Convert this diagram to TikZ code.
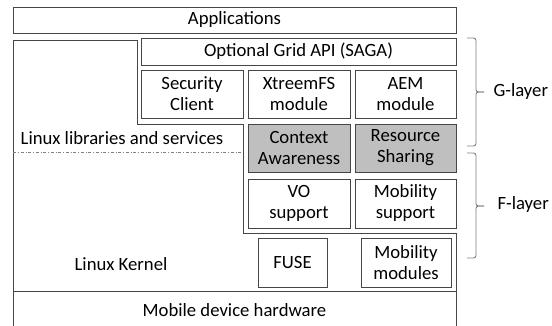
\documentclass[tikz,border=0pt]{standalone}
\usepackage{fontspec}
\setmainfont{Carlito}

\definecolor{boxline}{RGB}{70,70,70}
\definecolor{boxshade}{RGB}{191,191,191}
\definecolor{braceline}{RGB}{128,128,128}

\begin{document}
\begin{tikzpicture}[
        x=1pt,y=-1pt,
        every node/.style={font=\fontsize{18.7}{21}\selectfont},
        layerbox/.style={draw=boxline,line width=0.9pt,fill=white,align=center,inner sep=0pt},
        shadedbox/.style={layerbox,fill=boxshade},
        layerbrace/.style={draw=braceline,line width=0.9pt,rounded corners=2.5pt}
    ]
    \useasboundingbox (0,0) rectangle (552,326);
    % Linux part, drawn round the middleware
    \draw[boxline,line width=0.9pt] (13,40) -- (137,40) -- (137,124) -- (243,124)
        -- (243,233) -- (456,233) -- (456,291) -- (13,291) -- cycle;
    \draw[gray,line width=0.5pt,dash dot] (13,152) -- (243,152);
    \node (libs) at (122,138) {Linux libraries and services};
    \node (kernel) at (121,264) {Linux Kernel};

    % boxes
    \node[layerbox,minimum width=443pt,minimum height=26pt] (apps) at (234.5,20) {Applications};
    \node[layerbox,minimum width=315pt,minimum height=27pt] (saga) at (298.5,51.5) {Optional Grid API (SAGA)};
    \node[layerbox,minimum width=102pt,minimum height=48pt] (security) at (192,94) {Security\\Client};
    \node[layerbox,minimum width=102pt,minimum height=48pt] (xtreemfs) at (299,94) {XtreemFS\\module};
    \node[layerbox,minimum width=101pt,minimum height=48pt] (aem) at (405.5,94) {AEM\\module};
    \node[shadedbox,minimum width=102pt,minimum height=48pt] (context) at (299,148) {Context\\Awareness};
    \node[shadedbox,minimum width=101pt,minimum height=48pt] (sharing) at (405.5,148) {Resource\\Sharing};
    \node[layerbox,minimum width=102pt,minimum height=49pt] (vo) at (299,203.5) {VO\\support};
    \node[layerbox,minimum width=101pt,minimum height=49pt] (mobsupport) at (405.5,203.5) {Mobility\\support};
    \node[layerbox,minimum width=69pt,minimum height=49pt] (fuse) at (292.5,262.5) {FUSE};
    \node[layerbox,minimum width=90pt,minimum height=49pt] (mobmodules) at (406,262.5) {Mobility\\modules};
    \node[layerbox,minimum width=443pt,minimum height=46pt] (hardware) at (234.5,314) {};
    \node (hwlabel) at (234.5,310) {Mobile device hardware};

    % layers
    \coordinate (gtop) at (467,38);
    \coordinate (gbottom) at (467,146);
    \coordinate (gtip) at (484,92);
    \coordinate (ftop) at (467,153);
    \coordinate (fbottom) at (467,258);
    \coordinate (ftip) at (484,206);
    \draw[layerbrace] (gtop) -- ++(9,0) |- (gtip);
    \draw[layerbrace] (gbottom) -- ++(9,0) |- (gtip);
    \draw[layerbrace] (ftop) -- ++(9,0) |- (ftip);
    \draw[layerbrace] (fbottom) -- ++(9,0) |- (ftip);
    \node[anchor=west] (glayer) at (490,92) {G-layer};
    \node[anchor=west] (flayer) at (494,205) {F-layer};
\end{tikzpicture}
\end{document}
